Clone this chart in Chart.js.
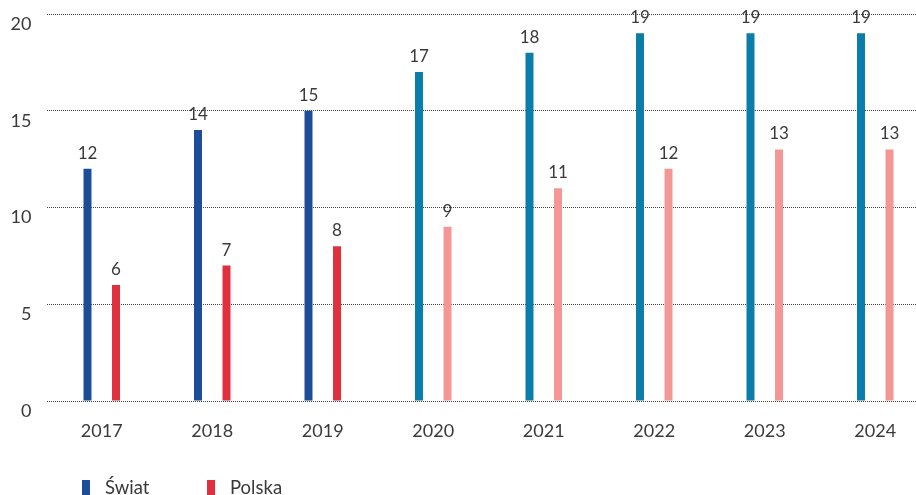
<!DOCTYPE html>
<html>
<head>
<meta charset="utf-8">
<script src="https://cdn.jsdelivr.net/npm/chart.js@4"></script>
<style>
  body { margin: 0; background: #fff; }
  #wrap { position: relative; width: 916px; height: 495px; overflow: hidden; }
  #box { position: absolute; left: 0; top: 0; width: 940px; height: 495px; }
  .legend { position: absolute; top: 476px; font: 18.5px Lato, sans-serif; color: #3a3a3a; }
  .legend span.sw { display: inline-block; width: 8px; height: 16px; vertical-align: -2px; margin-right: 15px; }
</style>
</head>
<body>
<div id="wrap">
  <div id="box"><canvas id="chart"></canvas></div>
  <div class="legend" style="left:82px"><span class="sw" style="background:#1d4c98"></span>Świat</div>
  <div class="legend" style="left:207px"><span class="sw" style="background:#e02f3d"></span>Polska</div>
</div>
<script>
// dane
const years = ['2017', '2018', '2019', '2020', '2021', '2022', '2023', '2024'];
const swiat = [12, 14, 15, 17, 18, 19, 19, 19];
const polska = [6, 7, 8, 9, 11, 12, 13, 13];
const yTicks = [0, 5, 10, 15, 20];

const swiatColors = years.map((y, i) => i < 3 ? '#1d4c98' : '#0a7da9');
const polskaColors = years.map((y, i) => i < 3 ? '#e02f3d' : '#f49794');

// etykiety nad słupkami
const valueLabels = {
  id: 'valueLabels',
  afterDatasetsDraw(chart) {
    const ctx = chart.ctx;
    ctx.save();
    ctx.font = '17px Lato, sans-serif';
    ctx.fillStyle = '#3a3a3a';
    ctx.textAlign = 'center';
    ctx.textBaseline = 'bottom';
    chart.data.datasets.forEach((ds, di) => {
      chart.getDatasetMeta(di).data.forEach((bar, i) => {
        ctx.fillText(ds.data[i], bar.x, bar.y - 7);
      });
    });
    ctx.restore();
  }
};

new Chart(document.getElementById('chart'), {
  type: 'bar',
  data: {
    labels: years,
    datasets: [
      { label: 'Świat', data: swiat, backgroundColor: swiatColors },
      { label: 'Polska', data: polska, backgroundColor: polskaColors }
    ]
  },
  options: {
    responsive: true,
    maintainAspectRatio: false,
    animation: false,
    categoryPercentage: 0.516,
    barPercentage: 0.28,
    layout: { padding: { top: 14, right: 9.5, left: 0, bottom: 0 } },
    plugins: { legend: { display: false }, tooltip: { enabled: false } },
    scales: {
      x: {
        grid: { display: false },
        border: { display: false },
        ticks: { color: '#3a3a3a', font: { family: 'Lato', size: 18 }, padding: 11 },
        afterFit(s) { s.height = 94; }
      },
      y: {
        min: 0,
        max: 20,
        afterBuildTicks(s) { s.ticks = yTicks.map(v => ({ value: v })); },
        afterFit(s) { s.width = 46.5; s.paddingTop = 0; s.paddingBottom = 0; },
        border: { display: false, dash: [1, 1] },
        grid: { color: '#444', lineWidth: 1, drawTicks: false },
        ticks: { color: '#3a3a3a', font: { family: 'Lato', size: 18 }, padding: 15, labelOffset: 10 }
      }
    }
  },
  plugins: [valueLabels]
});
</script>
</body>
</html>
